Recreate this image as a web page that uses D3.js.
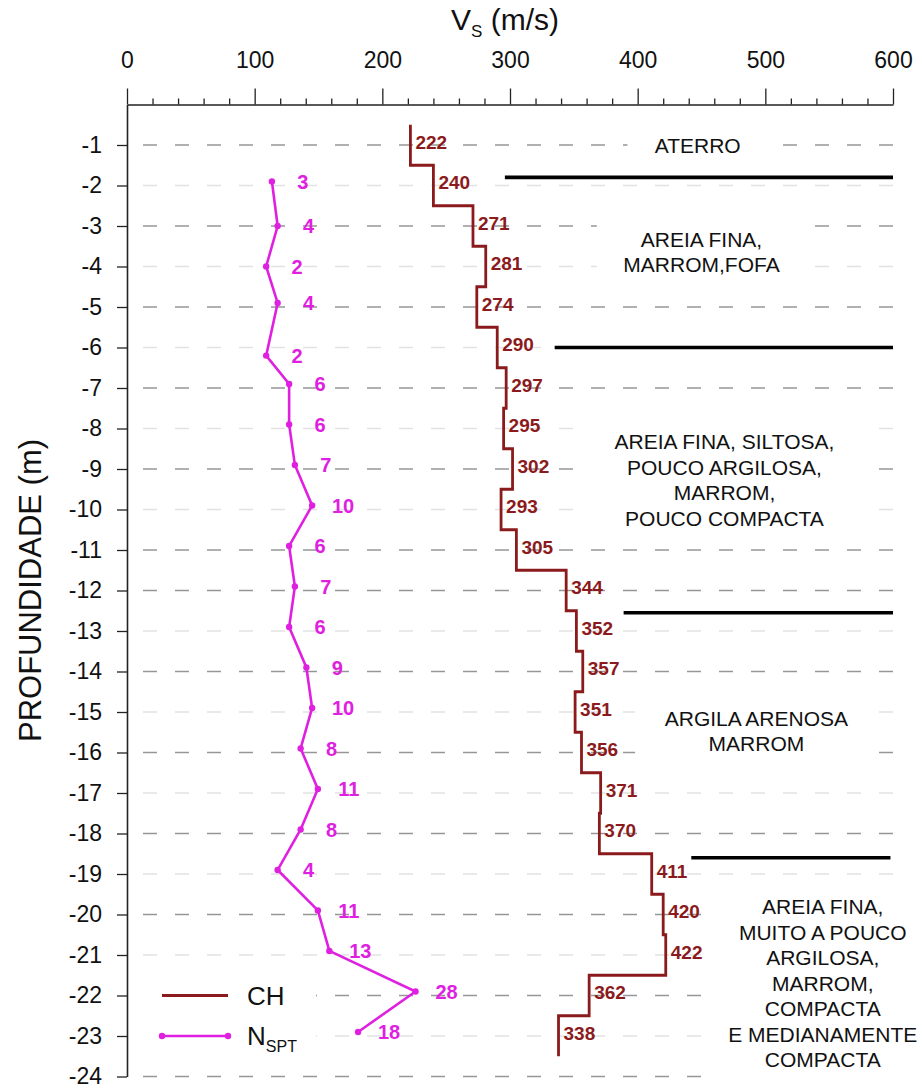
<!DOCTYPE html>
<html>
<head>
<meta charset="utf-8">
<script src="https://cdn.jsdelivr.net/npm/d3@7"></script>
<style>
  html, body { margin: 0; padding: 0; background: #fff; }
  svg { display: block; font-family: "Liberation Sans", Arial, Helvetica, sans-serif; }
</style>
</head>
<body>
<svg id="chart" width="922" height="1091"></svg>
<script>
// ---- Data -------------------------------------------------------------
// Cross-hole (CH) shear-wave velocity, one value per metre of depth
const chDepth = [-1, -2, -3, -4, -5, -6, -7, -8, -9, -10, -11, -12, -13, -14, -15, -16, -17, -18, -19, -20, -21, -22, -23];
const chVs = [222, 240, 271, 281, 274, 290, 297, 295, 302, 293, 305, 344, 352, 357, 351, 356, 371, 370, 411, 420, 422, 362, 338];

// SPT blow counts
const sptDepth = [-1.9, -3.0, -4.0, -4.9, -6.2, -6.9, -7.9, -8.9, -9.9, -10.9, -11.9, -12.9, -13.9, -14.9, -15.9, -16.9, -17.9, -18.9, -19.9, -20.9, -21.9, -22.9];
const sptN = [3, 4, 2, 4, 2, 6, 6, 7, 10, 6, 7, 6, 9, 10, 8, 11, 8, 4, 11, 13, 28, 18];

// Axis ticks
const vsTicks = [0, 100, 200, 300, 400, 500, 600];
const depthTicks = [-1, -2, -3, -4, -5, -6, -7, -8, -9, -10, -11, -12, -13, -14, -15, -16, -17, -18, -19, -20, -21, -22, -23, -24];

// Soil layer boundaries (depth, and Vs extent of the drawn line)
const boundaryDepth = [-1.8, -6.0, -12.55, -18.6];
const boundaryFrom = [296, 335, 389, 442];
const boundaryTo = [600, 600, 600, 598];

// Soil layer descriptions
const layerText = [
  ["ATERRO"],
  ["AREIA FINA,", "MARROM,FOFA"],
  ["AREIA FINA, SILTOSA,", "POUCO ARGILOSA,", "MARROM,", "POUCO COMPACTA"],
  ["ARGILA ARENOSA", "MARROM"],
  ["AREIA FINA,", "MUITO A POUCO", "ARGILOSA,", "MARROM,", "COMPACTA", "E MEDIANAMENTE", "COMPACTA"]
];

// ---- Layout -----------------------------------------------------------
const W = 922, H = 1091;
const plot = { left: 127, right: 893, top: 104.5, bottom: 1076.5 };
const colors = { ch: "#8b1a1c", spt: "#e020e0", gridDark: "#969696", gridLight: "#e2e2e2", text: "#111" };
// gridlines that print darker
const darkGrid = new Set([-1, -3, -5, -7, -9, -11, -12, -14, -16, -18, -20, -22, -24]);

// placement of the layer descriptions (centre, in data units) and the
// white panels behind them
const layerPlacement = [
  { vs: 447, depth: -1.0, box: [392, 506, -0.65, -1.35] },
  { vs: 450, depth: -3.64, box: [368, 533, -2.8, -4.5] },
  { vs: 468, depth: -9.27, box: [357, 584, -7.8, -10.6] },
  { vs: 493, depth: -15.47, box: [398, 588, -14.7, -16.3] },
  { vs: 545, depth: -21.7, box: [457, 640, -19.3, -24.2] }
];

const svg = d3.select("#chart");
svg.append("rect").attr("width", W).attr("height", H).attr("fill", "#fff");

const x = d3.scaleLinear().domain([0, 600]).range([plot.left, plot.right]);
const y = d3.scaleLinear().domain([0, -24]).range([plot.top, plot.bottom]);
// SPT counts share the horizontal space: 0 blows at 100 m/s, 4.5 m/s per blow
const xSpt = d3.scaleLinear().domain([0, 40]).range([x(100), x(280)]);

// ---- Gridlines ----------------------------------------------------------
svg.append("g").selectAll("line").data(depthTicks).join("line")
  .attr("x1", plot.left).attr("x2", plot.right)
  .attr("y1", d => y(d)).attr("y2", d => y(d))
  .attr("stroke", d => darkGrid.has(d) ? colors.gridDark : colors.gridLight)
  .attr("stroke-width", 1.5)
  .attr("stroke-dasharray", "14,18")
  .attr("stroke-dashoffset", 16);

// white panels behind the layer descriptions
svg.append("g").selectAll("rect").data(layerPlacement).join("rect")
  .attr("x", d => x(d.box[0])).attr("width", d => x(d.box[1]) - x(d.box[0]))
  .attr("y", d => y(d.box[2])).attr("height", d => y(d.box[3]) - y(d.box[2]))
  .attr("fill", "#fff");

// legend panel
svg.append("rect").attr("x", plot.left + 1).attr("y", y(-21.5)).attr("width", 188).attr("height", y(-23.45) - y(-21.5)).attr("fill", "#fff");

// ---- Axes ---------------------------------------------------------------
const plain = d => String(d);   // hyphen-minus, as printed on the axis
const topAxis = svg.append("g").attr("transform", `translate(0,${plot.top})`)
  .call(d3.axisTop(x).tickValues(vsTicks).tickSizeInner(16).tickSizeOuter(0).tickPadding(21).tickFormat(plain));
svg.append("g").attr("transform", `translate(0,${plot.top})`)
  .call(d3.axisTop(x).tickValues(d3.range(0, 601, 20).filter(v => v % 100 !== 0)).tickSizeInner(6).tickSizeOuter(0).tickFormat(""))
  .call(g => g.select(".domain").remove());

const leftAxis = svg.append("g").attr("transform", `translate(${plot.left},0)`)
  .call(d3.axisLeft(y).tickValues(depthTicks).tickSizeInner(10).tickSizeOuter(0).tickPadding(15).tickFormat(plain));

[topAxis, leftAxis].forEach(g => {
  g.selectAll("path.domain").attr("stroke", "#222").attr("stroke-width", 1.6);
  g.selectAll(".tick text").attr("fill", colors.text).attr("font-size", 23).attr("font-family", null);
});
svg.selectAll(".tick line").attr("stroke", "#222").attr("stroke-width", 1.3);
leftAxis.selectAll(".tick text").attr("text-anchor", "end");

// axis titles
const vsTitle = svg.append("text").attr("x", 505).attr("y", 30).attr("text-anchor", "middle")
  .attr("font-size", 30).attr("fill", colors.text);
vsTitle.append("tspan").text("V");
vsTitle.append("tspan").attr("font-size", 17).attr("dy", 7).text("S");
vsTitle.append("tspan").attr("dy", -7).text(" (m/s)");

svg.append("text")
  .attr("transform", `translate(41,${(plot.top + plot.bottom) / 2}) rotate(-90)`)
  .attr("text-anchor", "middle").attr("font-size", 31).attr("fill", colors.text)
  .text("PROFUNDIDADE (m)");

// ---- Layer boundaries -----------------------------------------------------
svg.append("g").selectAll("line").data(boundaryDepth).join("line")
  .attr("x1", (d, i) => x(boundaryFrom[i])).attr("x2", (d, i) => x(boundaryTo[i]))
  .attr("y1", d => y(d)).attr("y2", d => y(d))
  .attr("stroke", "#000").attr("stroke-width", 3.6);

// layer descriptions
const lineGap = 25.5;
layerPlacement.forEach((p, i) => {
  const lines = layerText[i];
  const t = svg.append("text").attr("text-anchor", "middle").attr("font-size", 21).attr("fill", colors.text);
  lines.forEach((s, k) => {
    t.append("tspan").attr("x", x(p.vs))
      .attr("y", y(p.depth) + (k - (lines.length - 1) / 2) * lineGap)
      .attr("dy", "0.36em").text(s);
  });
});

// ---- CH step profile --------------------------------------------------------
const chPts = chDepth.map((d, i) => [chVs[i], d + 0.5]);
chPts.push([chVs[chVs.length - 1], chDepth[chDepth.length - 1] - 0.5]);
const stepLine = d3.line().x(d => x(d[0])).y(d => y(d[1])).curve(d3.curveStepBefore);
svg.append("path").attr("d", stepLine(chPts))
  .attr("fill", "none").attr("stroke", colors.ch).attr("stroke-width", 2.8);

svg.append("g").selectAll("text").data(chVs).join("text")
  .attr("x", d => x(d) + 5).attr("y", (d, i) => y(chDepth[i]) - 3)
  .attr("dy", "0.36em").attr("font-size", 19).attr("font-weight", "bold")
  .attr("fill", colors.ch).text(d => d);

// ---- SPT profile -------------------------------------------------------------
const sptPts = sptN.map((n, i) => [n, sptDepth[i]]);
svg.append("path")
  .attr("d", d3.line().x(d => xSpt(d[0])).y(d => y(d[1]))(sptPts))
  .attr("fill", "none").attr("stroke", colors.spt).attr("stroke-width", 2.6);
svg.append("g").selectAll("circle").data(sptPts).join("circle")
  .attr("cx", d => xSpt(d[0])).attr("cy", d => y(d[1])).attr("r", 3.2)
  .attr("fill", colors.spt);
svg.append("g").selectAll("text").data(sptPts).join("text")
  .attr("x", d => xSpt(d[0]) + 31).attr("y", d => y(d[1]))
  .attr("dy", "0.36em").attr("text-anchor", "middle")
  .attr("font-size", 20).attr("font-weight", "bold")
  .attr("fill", colors.spt).text(d => d[0]);

// ---- Legend --------------------------------------------------------------------
const lg = svg.append("g");
const lx1 = 162, lx2 = 228;
lg.append("line").attr("x1", lx1).attr("x2", lx2).attr("y1", y(-22)).attr("y2", y(-22))
  .attr("stroke", colors.ch).attr("stroke-width", 3);
lg.append("text").attr("x", 247).attr("y", y(-22)).attr("dy", "0.36em")
  .attr("font-size", 26).attr("fill", colors.text).text("CH");
lg.append("line").attr("x1", lx1).attr("x2", lx2).attr("y1", y(-23)).attr("y2", y(-23))
  .attr("stroke", colors.spt).attr("stroke-width", 2.6);
lg.selectAll("circle").data([lx1, lx2]).join("circle")
  .attr("cx", d => d).attr("cy", y(-23)).attr("r", 3.2).attr("fill", colors.spt);
const nt = lg.append("text").attr("x", 247).attr("y", y(-23)).attr("dy", "0.36em")
  .attr("font-size", 26).attr("fill", colors.text);
nt.append("tspan").text("N");
nt.append("tspan").attr("font-size", 16).attr("dy", 7).text("SPT");
</script>
</body>
</html>
